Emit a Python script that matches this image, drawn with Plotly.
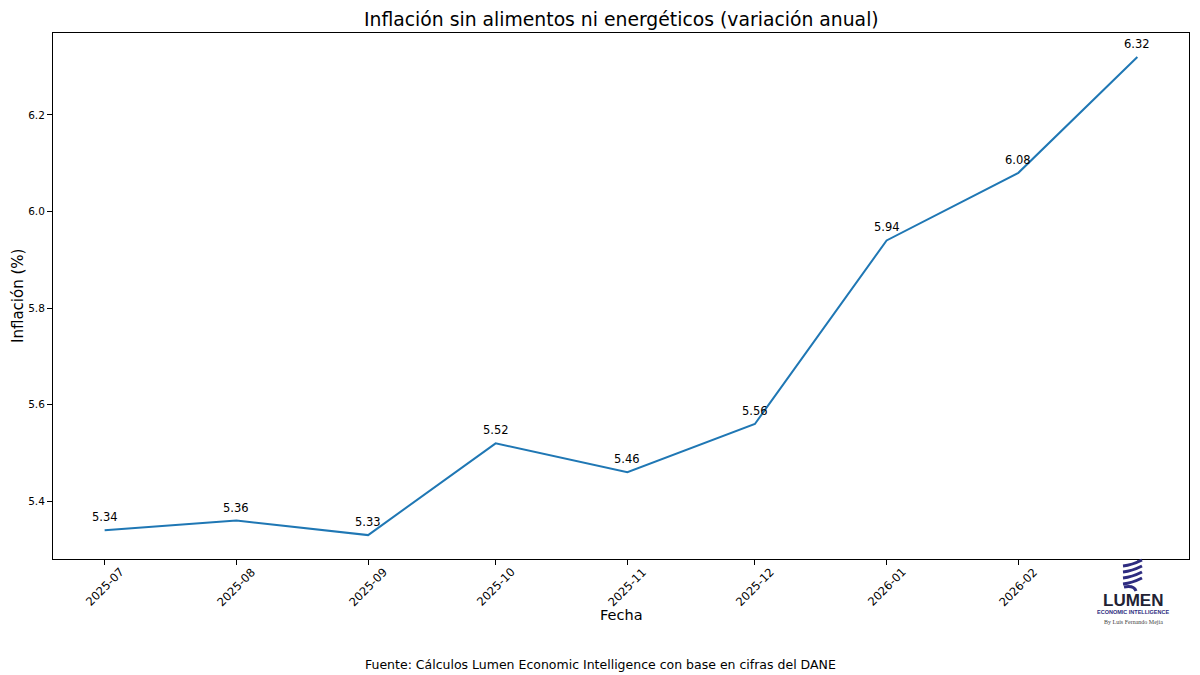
import plotly.graph_objects as go

# Data
fechas = ["2025-07-01", "2025-08-01", "2025-09-01", "2025-10-01", "2025-11-01",
          "2025-12-01", "2026-01-01", "2026-02-01", "2026-03-01"]
inflacion = [5.34, 5.36, 5.33, 5.52, 5.46, 5.56, 5.94, 6.08, 6.32]
tick_labels = ["2025-07", "2025-08", "2025-09", "2025-10", "2025-11",
               "2025-12", "2026-01", "2026-02", "2026-03"]
y_ticks = [5.4, 5.6, 5.8, 6.0, 6.2]

W, H = 1200, 675
L, R, T, B = 53, 1189, 33, 559
FONT = "DejaVu Sans"

def px(x):
    return (x - L) / (R - L)

def py(y):
    return (B - y) / (B - T)

fig = go.Figure()
fig.add_trace(go.Scatter(
    x=fechas, y=inflacion, mode="lines",
    line=dict(color="#1f77b4", width=2), hoverinfo="skip", showlegend=False))

annotations = []
# value labels
for f, v in zip(fechas, inflacion):
    annotations.append(dict(x=f, y=v, xref="x", yref="y", text=f"{v:.2f}",
                            showarrow=False, yshift=13, xanchor="center", yanchor="middle",
                            font=dict(family=FONT, size=11.5, color="black")))
# rotated tick labels (the last one is hidden behind the logo in the original)
for f, t in list(zip(fechas, tick_labels))[:-1]:
    annotations.append(dict(x=f, y=0, xref="x", yref="paper", text=t,
                            showarrow=False, textangle=-45, yanchor="middle",
                            xanchor="center", yshift=-28,
                            font=dict(family=FONT, size=11.5, color="black")))
# axis titles
annotations.append(dict(x=px(621), y=py(615), xref="paper", yref="paper", text="Fecha",
                        showarrow=False, xanchor="center", yanchor="middle",
                        font=dict(family=FONT, size=14.5, color="black")))
annotations.append(dict(x=px(18), y=0.5, xref="paper", yref="paper", text="Inflación (%)",
                        showarrow=False, textangle=-90, xanchor="center", yanchor="middle",
                        font=dict(family=FONT, size=15, color="black")))
# title
annotations.append(dict(x=px(621), y=py(19), xref="paper", yref="paper",
                        text="Inflación sin alimentos ni energéticos (variación anual)",
                        showarrow=False, xanchor="center", yanchor="middle",
                        font=dict(family=FONT, size=18.8, color="black")))
# footer
annotations.append(dict(x=px(600), y=py(664), xref="paper", yref="paper",
                        text="Fuente: Cálculos Lumen Economic Intelligence con base en cifras del DANE",
                        showarrow=False, xanchor="center", yanchor="middle",
                        font=dict(family=FONT, size=12.5, color="black")))

shapes = []
# logo background (covers last tick)
shapes.append(dict(type="rect", xref="paper", yref="paper",
                   x0=px(1096), x1=px(1170), y0=py(628), y1=py(560.5),
                   fillcolor="white", line=dict(width=0), layer="above"))
NAVY = "#2e2c80"
for yy in [563, 569, 575, 581]:
    shapes.append(dict(type="path", xref="paper", yref="paper",
                       path=(f"M {px(1123)},{py(yy+3)} Q {px(1132)},{py(yy+2)} {px(1142)},{py(yy-3)}"),
                       line=dict(color=NAVY, width=3), layer="above"))
shapes.append(dict(type="path", xref="paper", yref="paper",
                   path=(f"M {px(1124)},{py(587)} Q {px(1134)},{py(585)} {px(1136)},{py(591)}"),
                   line=dict(color=NAVY, width=3), layer="above"))

annotations.append(dict(x=px(1133), y=py(600), xref="paper", yref="paper",
                        text="<b>LUMEN</b>", showarrow=False, xanchor="center", yanchor="middle",
                        font=dict(family="Liberation Sans", size=17, color="#222233")))
annotations.append(dict(x=px(1133), y=py(612), xref="paper", yref="paper",
                        text="<b>ECONOMIC INTELLIGENCE</b>", showarrow=False,
                        xanchor="center", yanchor="middle",
                        font=dict(family="Liberation Sans", size=5.5, color=NAVY)))
annotations.append(dict(x=px(1133), y=py(622), xref="paper", yref="paper",
                        text="By Luis Fernando Mejía", showarrow=False,
                        xanchor="center", yanchor="middle",
                        font=dict(family="Liberation Serif", size=6, color="#444444")))

fig.update_layout(
    width=W, height=H,
    margin=dict(l=L, r=W - R, t=T, b=H - B),
    paper_bgcolor="white", plot_bgcolor="white",
    annotations=annotations, shapes=shapes,
    xaxis=dict(type="date", range=["2025-06-18 20:24", "2026-03-13 03:36"],
               tickvals=fechas, showticklabels=False, ticks="outside", ticklen=5,
               tickcolor="black", showgrid=False, zeroline=False,
               showline=True, linecolor="black", linewidth=1, mirror=True),
    yaxis=dict(range=[5.2805, 6.3695], tickvals=y_ticks,
               ticktext=[f"{v:.1f}" for v in y_ticks],
               ticks="outside", ticklen=5, tickcolor="black",
               tickfont=dict(family=FONT, size=10.5, color="black"),
               showgrid=False, zeroline=False,
               showline=True, linecolor="black", linewidth=1, mirror=True),
)

fig.write_html("out.html", config={"displayModeBar": False},
               post_script="document.body.style.margin='0';document.body.style.overflow='hidden';")
